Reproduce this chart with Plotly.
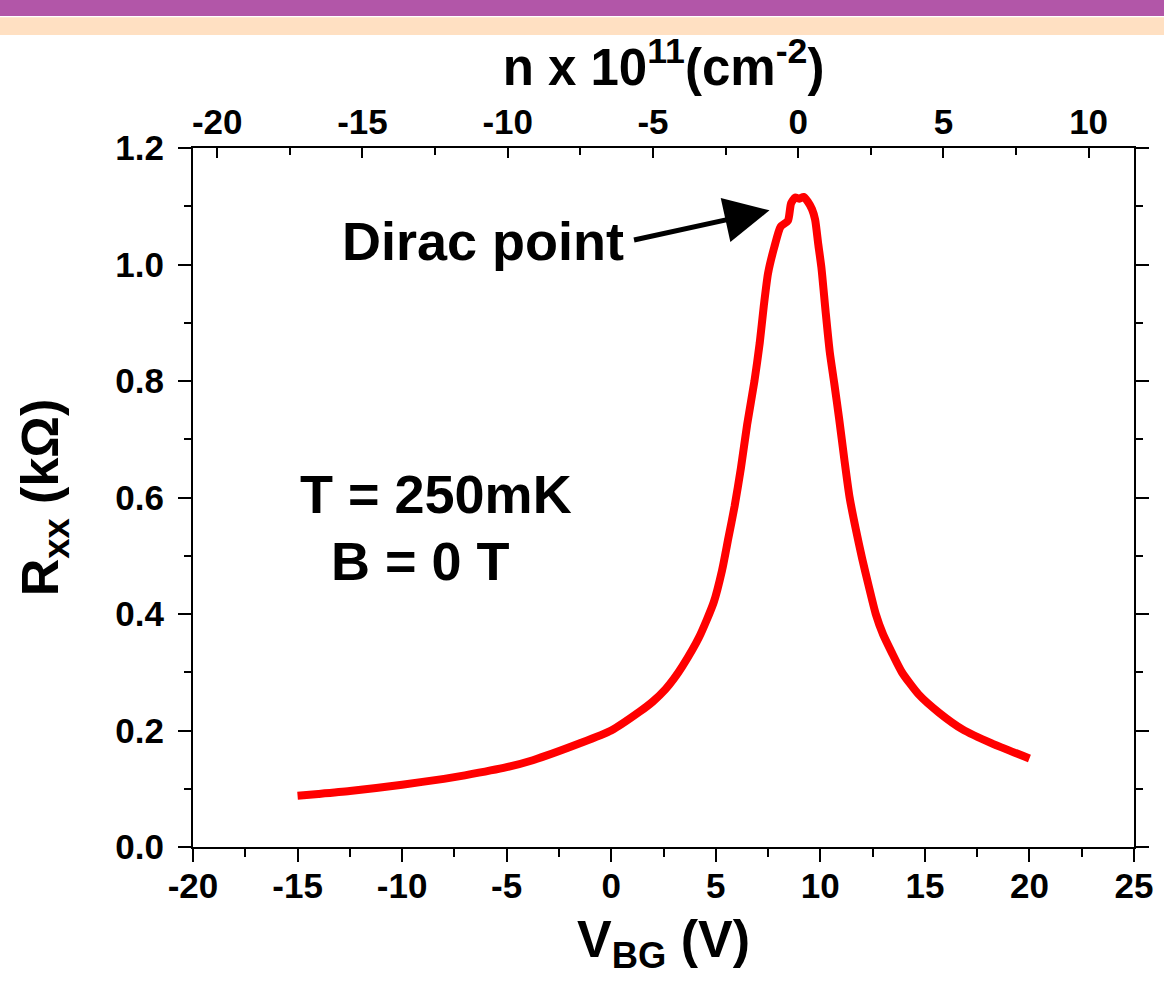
import plotly.graph_objects as go

# ---- data ----
V_BG = [-15, -14, -12.5, -10, -8, -7, -5, -3.75, -1.5, 0, 1.35, 2.0, 2.6, 3.0, 3.4, 4.2,
        4.9, 5.3, 5.6, 5.9, 6.2, 6.5, 6.85, 7.1, 7.3, 7.5, 7.8, 8.1, 8.45, 8.6, 8.8,
        9.0, 9.2, 9.4, 9.6, 9.75, 9.9, 10.05, 10.25, 10.45, 10.67, 10.9, 11.15, 11.4,
        11.7, 12.0, 12.3, 12.65, 13.0, 13.4, 13.9, 14.7, 15.7, 16.8, 18.2, 20]
R_XX = [0.088, 0.091, 0.096, 0.107, 0.117, 0.123, 0.137, 0.149, 0.178, 0.200, 0.232,
        0.250, 0.271, 0.289, 0.310, 0.360, 0.420, 0.475, 0.530, 0.585, 0.650, 0.725,
        0.800, 0.865, 0.930, 0.985, 1.030, 1.065, 1.075, 1.105, 1.115, 1.113, 1.116,
        1.108, 1.095, 1.077, 1.035, 0.995, 0.920, 0.850, 0.795, 0.735, 0.665, 0.600,
        0.545, 0.495, 0.450, 0.400, 0.365, 0.335, 0.300, 0.262, 0.230, 0.202, 0.178,
        0.152]

X_RANGE = [-20, 25]
Y_RANGE = [0, 1.2]
X_TICKS = [-20, -15, -10, -5, 0, 5, 10, 15, 20, 25]
X_TICK_LABELS = ["-20", "-15", "-10", "-5", "0", "5", "10", "15", "20", "25"]
X_MINOR = [-17.5, -12.5, -7.5, -2.5, 2.5, 7.5, 12.5, 17.5, 22.5]
N_TICKS = [-20, -15, -10, -5, 0, 5, 10]
N_TICK_LABELS = ["-20", "-15", "-10", "-5", "0", "5", "10"]
N_MINOR = [-17.5, -12.5, -7.5, -2.5, 2.5, 7.5]
# carrier density axis: n = (V - V_DIRAC) / VOLT_PER_N   (n in 1e11 cm^-2)
V_DIRAC = 8.94
VOLT_PER_N = 1.389
N_RANGE = [(X_RANGE[0] - V_DIRAC) / VOLT_PER_N, (X_RANGE[1] - V_DIRAC) / VOLT_PER_N]

FONT = "Liberation Sans, Arial, sans-serif"

fig = go.Figure()
fig.add_trace(go.Scatter(x=V_BG, y=R_XX, mode="lines",
                         line=dict(color="#ff0000", width=8, shape="spline", smoothing=0.6),
                         showlegend=False, hoverinfo="skip"))
# empty trace to anchor the top axis
fig.add_trace(go.Scatter(x=[], y=[], xaxis="x2", yaxis="y", showlegend=False, hoverinfo="skip"))

tickfont = dict(family=FONT, size=35, color="black", weight="bold")

fig.update_layout(
    template="none",
    width=1164, height=983,
    margin=dict(l=193, r=30, t=148, b=136, pad=0),
    paper_bgcolor="white", plot_bgcolor="white",
    xaxis=dict(range=X_RANGE, tickmode="array", tickvals=X_TICKS, ticktext=X_TICK_LABELS,
               ticks="outside", ticklen=13, tickwidth=2,
               tickcolor="black", showline=True, linecolor="black", linewidth=2, mirror=True,
               showgrid=False, zeroline=False, tickfont=tickfont, automargin=False,
               ticklabelstandoff=-6,
               minor=dict(tickmode="array", tickvals=X_MINOR, ticks="outside", ticklen=8,
                          tickwidth=2, tickcolor="black", showgrid=False),
               title=dict(text="V<sub>BG</sub> (V)", standoff=17,
                          font=dict(family=FONT, size=52, color="black", weight="bold"))),
    xaxis2=dict(range=N_RANGE, overlaying="x", side="top", anchor="y", tickmode="array",
                tickvals=N_TICKS, ticktext=N_TICK_LABELS,
                ticks="inside", ticklen=10, tickwidth=2, tickcolor="black", showline=False,
                showgrid=False, zeroline=False, tickfont=tickfont, automargin=False,
                ticklabelstandoff=6,
                minor=dict(tickmode="array", tickvals=N_MINOR, ticks="inside", ticklen=7,
                           tickwidth=2, tickcolor="black", showgrid=False),
                title=dict(text="n x 10<sup>11</sup>(cm<sup>-2</sup>)", standoff=0,
                           font=dict(family=FONT, size=51, color="black", weight="bold"))),
    yaxis=dict(range=Y_RANGE, dtick=0.2, tick0=0, tickformat=".1f", ticks="outside",
               ticklen=13, tickwidth=2, tickcolor="black", showline=True, linecolor="black",
               linewidth=2, mirror="ticks", showgrid=False, zeroline=False, tickfont=tickfont,
               automargin=False, ticklabelstandoff=7,
               minor=dict(dtick=0.1, tick0=0, ticks="outside", ticklen=7, tickwidth=2,
                          tickcolor="black", showgrid=False),
               title=dict(text="R<sub>xx</sub> (kΩ)", standoff=40,
                          font=dict(family=FONT, size=52, color="black", weight="bold"))),
)

# header bands of the slide
fig.add_shape(type="rect", xref="paper", yref="paper", x0=-0.3, x1=1.1, y0=1.189, y1=1.25,
              fillcolor="#b256a8", line=dict(width=0), layer="above")
fig.add_shape(type="rect", xref="paper", yref="paper", x0=-0.3, x1=1.1, y0=1.1617, y1=1.187,
              fillcolor="#ffe0c2", line=dict(width=0), layer="above")

annfont = dict(family=FONT, size=54, color="black", weight="bold")
fig.add_annotation(x=0.7, y=1.041, xref="x", yref="y", text="Dirac point", showarrow=False,
                   xanchor="right", yanchor="middle", font=annfont)
fig.add_annotation(x=7.57, y=1.093, xref="x", yref="y", text="", showarrow=True,
                   ax=-137, ay=30, arrowhead=2, arrowsize=1.8, arrowwidth=5,
                   arrowcolor="black", standoff=0)
fig.add_annotation(x=-15.0, y=0.6065, xref="x", yref="y", text="T = 250mK", showarrow=False,
                   xanchor="left", yanchor="middle", font=annfont)
fig.add_annotation(x=-13.5, y=0.491, xref="x", yref="y", text="B = 0 T", showarrow=False,
                   xanchor="left", yanchor="middle", font=annfont)

fig.write_html("out.html")
